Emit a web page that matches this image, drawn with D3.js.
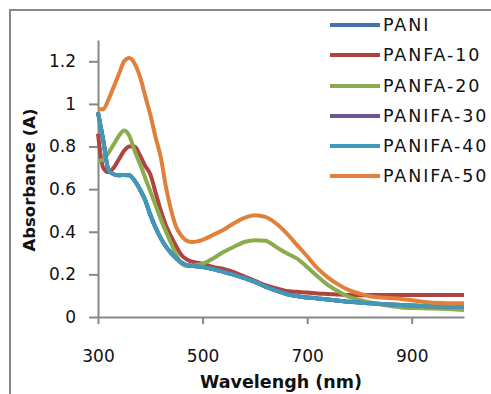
<!DOCTYPE html>
<html><head><meta charset="utf-8">
<script src="https://cdn.jsdelivr.net/npm/d3@7"></script>
<style>
html,body{margin:0;padding:0;background:#fff;}
svg{display:block;}
</style></head>
<body><svg id="c" width="491" height="394"></svg>
<script>
const wavelengths = [300,310,320,330,340,350,360,370,380,390,400,410,420,430,440,450,460,470,480,490,500,520,540,560,580,600,620,640,660,680,700,720,740,760,780,800,820,850,880,910,940,970,1000];
const seriesNames = ["PANI","PANFA-10","PANFA-20","PANIFA-30","PANIFA-40","PANIFA-50"];
const pani     = [0.96,0.83,0.69,0.67,0.665,0.667,0.665,0.64,0.60,0.55,0.48,0.42,0.37,0.33,0.30,0.275,0.255,0.243,0.24,0.237,0.235,0.225,0.212,0.198,0.182,0.165,0.143,0.125,0.108,0.098,0.092,0.087,0.082,0.076,0.072,0.068,0.065,0.06,0.056,0.053,0.05,0.049,0.048];
const panfa10  = [0.86,0.70,0.68,0.70,0.74,0.78,0.80,0.80,0.76,0.71,0.67,0.585,0.50,0.43,0.377,0.33,0.29,0.27,0.26,0.255,0.25,0.235,0.225,0.21,0.19,0.17,0.15,0.135,0.122,0.118,0.115,0.11,0.108,0.105,0.103,0.102,0.103,0.103,0.103,0.103,0.103,0.103,0.103];
const panfa20  = [0.73,0.74,0.77,0.81,0.85,0.875,0.85,0.78,0.72,0.655,0.59,0.525,0.46,0.40,0.345,0.29,0.25,0.24,0.24,0.245,0.25,0.275,0.305,0.33,0.352,0.36,0.358,0.33,0.30,0.275,0.235,0.19,0.15,0.12,0.095,0.08,0.068,0.055,0.045,0.042,0.04,0.037,0.033];
const panifa30 = [0.96,0.83,0.69,0.67,0.665,0.667,0.665,0.64,0.60,0.55,0.48,0.42,0.37,0.33,0.30,0.275,0.255,0.243,0.24,0.237,0.235,0.225,0.212,0.198,0.182,0.165,0.143,0.125,0.108,0.098,0.092,0.087,0.082,0.076,0.072,0.068,0.065,0.06,0.056,0.053,0.05,0.049,0.048];
const panifa40 = [0.96,0.83,0.69,0.67,0.665,0.667,0.665,0.64,0.60,0.55,0.48,0.42,0.37,0.33,0.30,0.275,0.255,0.243,0.24,0.237,0.235,0.225,0.212,0.198,0.182,0.165,0.143,0.125,0.108,0.098,0.092,0.087,0.082,0.076,0.072,0.068,0.065,0.06,0.056,0.053,0.05,0.049,0.048];
const panifa50 = [0.975,0.975,1.02,1.08,1.14,1.20,1.215,1.19,1.13,1.04,0.95,0.845,0.75,0.61,0.50,0.42,0.38,0.357,0.352,0.355,0.362,0.385,0.41,0.44,0.465,0.478,0.47,0.44,0.395,0.34,0.285,0.228,0.185,0.152,0.126,0.11,0.097,0.09,0.085,0.075,0.067,0.065,0.065];
const xTicks = [300,500,700,900];
const yTicks = [0,0.2,0.4,0.6,0.8,1,1.2];
const colors = ["#4573B0","#AE4340","#8AAC4E","#6E5494","#3F9AB8","#E0803A"];

const allSeries = [pani,panfa10,panfa20,panifa30,panifa40,panifa50];
const svg = d3.select("#c");
const axisColor = "#878787";

svg.append("rect").attr("x",10).attr("y",10).attr("width",700).attr("height",700)
  .attr("fill","#fff").attr("stroke",axisColor).attr("stroke-width",2);

const x = d3.scaleLinear().domain([300,1000]).range([98,464]);
const y = d3.scaleLinear().domain([0,1.3]).range([317,40]);

const font = "DejaVu Sans, Verdana, sans-serif";

// y axis
const gy = svg.append("g").attr("transform","translate(98,0)")
  .call(d3.axisLeft(y).tickValues(yTicks).tickSize(9).tickPadding(13).tickSizeOuter(0).tickFormat(d3.format("~g")));
gy.select(".domain").attr("stroke",axisColor).attr("stroke-width",2);
gy.selectAll(".tick line").attr("stroke",axisColor).attr("stroke-width",2);
gy.selectAll(".tick text").attr("font-family",font).attr("font-size",17).attr("fill","#111");

// x axis
const gx = svg.append("g").attr("transform","translate(0,317)")
  .call(d3.axisBottom(x).tickValues(xTicks).tickSize(7).tickPadding(26).tickSizeOuter(0));
gx.select(".domain").attr("stroke",axisColor).attr("stroke-width",2);
gx.selectAll(".tick line").attr("stroke",axisColor).attr("stroke-width",2);
gx.selectAll(".tick text").attr("font-family",font).attr("font-size",17).attr("fill","#111");

// titles
svg.append("text").attr("x",281).attr("y",388).attr("text-anchor","middle")
  .attr("font-family",font).attr("font-weight","bold").attr("font-size",17.5).attr("fill","#111")
  .text("Wavelengh (nm)");
svg.append("text").attr("transform","translate(35,180) rotate(-90)").attr("text-anchor","middle")
  .attr("font-family",font).attr("font-weight","bold").attr("font-size",16.5).attr("fill","#111")
  .text("Absorbance (A)");

// lines
const line = d3.line().x((d,i)=>x(wavelengths[i])).y(d=>y(d)).curve(d3.curveMonotoneX);
svg.append("g").selectAll("path").data(allSeries).join("path")
  .attr("d",line).attr("fill","none")
  .attr("stroke",(d,i)=>colors[i]).attr("stroke-width",4).attr("stroke-linejoin","round");

// legend
const legY = [25,55,86,116,146,176];
const lg = svg.append("g");
seriesNames.forEach((n,i)=>{
  lg.append("line").attr("x1",330).attr("x2",380).attr("y1",legY[i]).attr("y2",legY[i])
    .attr("stroke",colors[i]).attr("stroke-width",4);
  lg.append("text").attr("x",383).attr("y",legY[i]).attr("dy","0.36em")
    .attr("font-family",font).attr("font-size",17.5).attr("letter-spacing",1.9).attr("fill","#111").text(n);
});
</script></body></html>
